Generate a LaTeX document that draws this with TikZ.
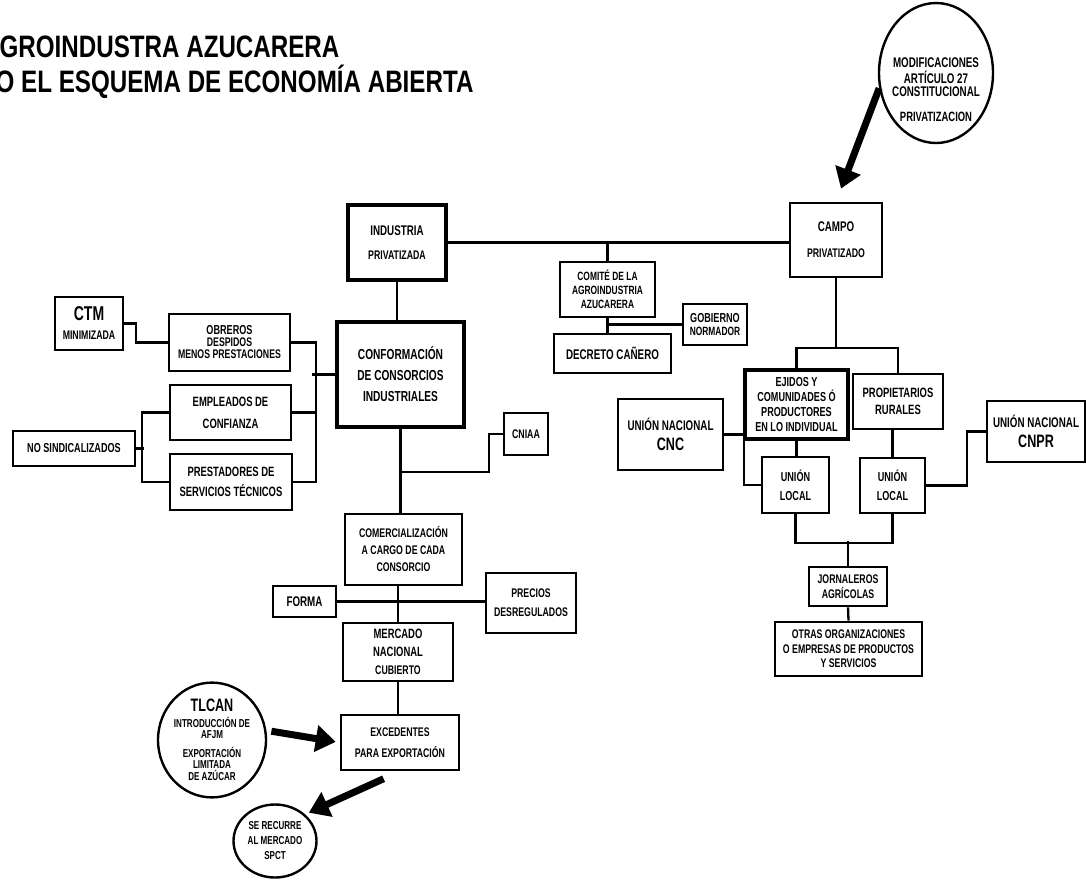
\documentclass[tikz,border=0pt]{standalone}
\usepackage{fontspec}
\setmainfont{Liberation Sans}[FakeStretch=0.7]
\newfontfamily\fuentetitulo{Liberation Sans}[FakeStretch=0.78]
\usetikzlibrary{shapes.geometric,arrows.meta}
\newcommand\tam[2]{\fontsize{#1}{#2}\selectfont}

\begin{document}
\begin{tikzpicture}[x=1pt,y=-1pt,
		caja/.style={draw, line width=2.6pt, align=center, inner sep=0pt},
		gruesa/.style={caja, line width=3.4pt},
		ovalo/.style={draw, ellipse, line width=2.4pt, align=center, inner sep=0pt},
		linea/.style={line width=2.3pt},
		flecha/.style={line width=7pt, -{Triangle[length=20pt,width=26pt]}}]
			\useasboundingbox (0,0) rectangle (1086,881);
			% titulo
			\node[anchor=east, font=\fuentetitulo\bfseries\tam{31}{33}] (titulo1) at (343,47) {AGROINDUSTRA AZUCARERA};
			\node[anchor=east, font=\fuentetitulo\bfseries\tam{31}{33}] (titulo2) at (477,82) {O EL ESQUEMA DE ECONOMÍA ABIERTA};
			% industria y campo
			\node[gruesa, minimum width=98pt, minimum height=75pt, font=\bfseries\tam{14}{24}] (industria) at (397,242.5) {INDUSTRIA\\\tam{12.5}{12}PRIVATIZADA};
			\node[caja, minimum width=92pt, minimum height=74pt, font=\bfseries\tam{14}{26}] (campo) at (836,240) {CAMPO\\\tam{12.5}{12}PRIVATIZADO};
			\node[caja, minimum width=95pt, minimum height=55pt, font=\bfseries\tam{12}{14}] (comite) at (607.5,289.5) {COMITÉ DE LA\\AGROINDUSTRIA\\AZUCARERA};
			\node[caja, minimum width=117pt, minimum height=39pt, font=\bfseries\tam{14}{16}] (decreto) at (612.5,353.5) {DECRETO CAÑERO};
			\node[caja, minimum width=64pt, minimum height=41pt, font=\bfseries\tam{13}{13}] (gobierno) at (715,324.5) {GOBIERNO\\\tam{12}{10}NORMADOR};
			\node[ovalo, minimum width=114pt, minimum height=140pt] (modif) at (936,73) {};
			\node[align=center, font=\bfseries\tam{14}{13}] (modiftexto) at (936,90) {MODIFICACIONES\\[3pt]ARTÍCULO 27\\CONSTITUCIONAL\\[12pt]\tam{13.5}{12}PRIVATIZACION};
			% lado izquierdo
			\node[caja, minimum width=68pt, minimum height=53pt, font=\bfseries\tam{20}{19}] (ctm) at (89,323.5) {CTM\\\tam{12.5}{12}MINIMIZADA};
			\node[caja, minimum width=121pt, minimum height=57pt, font=\bfseries\tam{13}{12}] (obreros) at (229.5,342.5) {OBREROS\\\tam{12.5}{11}DESPIDOS\\\tam{12.5}{11}MENOS PRESTACIONES};
			\node[caja, minimum width=121pt, minimum height=55pt, font=\bfseries\tam{13.5}{22}] (empleados) at (230.5,412.5) {EMPLEADOS DE\\CONFIANZA};
			\node[caja, minimum width=122pt, minimum height=56pt, font=\bfseries\tam{13.5}{20}] (prestadores) at (231,482) {PRESTADORES DE\\SERVICIOS TÉCNICOS};
			\node[caja, minimum width=122pt, minimum height=35pt, font=\bfseries\tam{13}{13}] (nosind) at (74,448.5) {NO SINDICALIZADOS};
			\node[gruesa, minimum width=127pt, minimum height=105pt, font=\bfseries\tam{14.5}{21}] (conformacion) at (400.5,374.5) {CONFORMACIÓN\\DE CONSORCIOS\\INDUSTRIALES};
			\node[caja, minimum width=44pt, minimum height=42pt, font=\bfseries\tam{12.5}{12}] (cniaa) at (526,434) {CNIAA};
			\node[caja, minimum width=117pt, minimum height=71pt, font=\bfseries\tam{12.5}{17}] (comercializacion) at (403.5,549.5) {COMERCIALIZACIÓN\\A CARGO DE CADA\\CONSORCIO};
			\node[caja, minimum width=63pt, minimum height=31pt, font=\bfseries\tam{14}{14}] (forma) at (304.5,601.5) {FORMA};
			\node[caja, minimum width=90pt, minimum height=60pt, font=\bfseries\tam{12.5}{19}] (precios) at (531,603) {PRECIOS\\DESREGULADOS};
			\node[caja, minimum width=110pt, minimum height=58pt, font=\bfseries\tam{13.5}{18}] (mercado) at (398,652) {MERCADO\\NACIONAL\\\tam{12.5}{12}CUBIERTO};
			\node[caja, minimum width=118pt, minimum height=55pt, font=\bfseries\tam{12.5}{21}] (excedentes) at (400,742.5) {EXCEDENTES\\PARA EXPORTACIÓN};
			\node[ovalo, minimum width=108pt, minimum height=114pt, font=\bfseries\tam{11.5}{11.5}] (tlcan) at (212,740) {\tam{18}{18}TLCAN\\[4pt]INTRODUCCIÓN DE\\AFJM\\[7pt]EXPORTACIÓN\\LIMITADA\\DE AZÚCAR};
			\node[ovalo, minimum width=83pt, minimum height=73pt, font=\bfseries\tam{11.5}{15}] (serecurre) at (275,841) {SE RECURRE\\AL MERCADO\\SPCT};
			% lado derecho
			\node[gruesa, minimum width=103pt, minimum height=69pt, font=\bfseries\tam{13}{15}] (ejidos) at (796.5,404.5) {EJIDOS Y\\COMUNIDADES Ó\\PRODUCTORES\\EN LO INDIVIDUAL};
			\node[caja, minimum width=90pt, minimum height=55pt, font=\bfseries\tam{13.5}{17}] (propietarios) at (898,401.5) {PROPIETARIOS\\RURALES};
			\node[caja, minimum width=105pt, minimum height=71pt, font=\bfseries\tam{14}{20}] (cnc) at (670.5,434.5) {UNIÓN NACIONAL\\\tam{18}{20}CNC};
			\node[caja, minimum width=67pt, minimum height=56pt, font=\bfseries\tam{13}{19}] (localI) at (795.5,485) {UNIÓN\\LOCAL};
			\node[caja, minimum width=65pt, minimum height=55pt, font=\bfseries\tam{13}{19}] (localD) at (892.5,485.5) {UNIÓN\\LOCAL};
			\node[caja, minimum width=98pt, minimum height=61pt, font=\bfseries\tam{14}{20}] (cnpr) at (1036,431.5) {UNIÓN NACIONAL\\\tam{18}{20}CNPR};
			\node[caja, minimum width=78pt, minimum height=39pt, font=\bfseries\tam{12.5}{15}] (jornaleros) at (848,586.5) {JORNALEROS\\AGRÍCOLAS};
			\node[caja, minimum width=147pt, minimum height=54pt, font=\bfseries\tam{12.5}{14.5}] (otras) at (848.5,649) {OTRAS ORGANIZACIONES\\O EMPRESAS DE PRODUCTOS\\Y SERVICIOS};
			% conexiones centro
			\draw[linea] (industria.east) -- (industria.east -| campo.west);
			\draw[linea] (comite.north) -- (comite.north |- industria.east);
			\draw[linea] (comite.south) -- (comite.south |- decreto.north);
			\draw[linea] (gobierno.west) -- (gobierno.west -| comite.south);
			\draw[linea] (industria.south) -- (industria.south |- conformacion.north);
			\draw[linea] (conformacion.south) -- (conformacion.south |- comercializacion.north);
			\draw[linea] (cniaa.west) -- ++(-14,0) |- (400.5,472) coordinate (codocniaa);
			\draw[linea] (mercado.north) -- (mercado.north |- comercializacion.south);
			\draw[linea] (forma.east) -- (forma.east -| precios.west);
			\draw[linea] (mercado.south) -- (mercado.south |- excedentes.north);
			% conexiones izquierda
			\draw[linea] (ctm.east) -- ++(12,0) |- (obreros.west);
			\draw[linea] (obreros.east) -- ++(24.5,0) |- (prestadores.east);
			\draw[linea] (empleados.east) -- ++(23.5,0);
			\draw[linea] (conformacion.west) -- ++(-23,0);
			\draw[linea] (empleados.west) -- ++(-27,0) |- (prestadores.west);
			\draw[linea] (nosind.east) -- ++(8,0);
			% conexiones derecha
			\draw[linea] (campo.south) -- ++(0,70) coordinate (ramacampo);
			\draw[linea] (ejidos.north) |- (ramacampo) -| (propietarios.north);
			\draw[linea] (ejidos.south) -- (ejidos.south |- localI.north);
			\draw[linea] (localD.north) -- (localD.north |- propietarios.south);
			\draw[linea] (cnc.east) -- ++(20,0) |- (localI.west);
			\draw[linea] (localD.east) -- ++(41,0) |- (cnpr.west);
			\draw[linea] (localI.south) -- ++(0,29) -| (localD.south);
			\draw[linea] (jornaleros.north) -- ++(0,-25);
			\draw[linea] (jornaleros.south) -- (otras.north);
			% flechas
			\draw[flecha, shorten >=14pt] (modif.195) -- (campo.north);
			\draw[flecha, shorten <=5pt, shorten >=4pt] (tlcan.10) -- (excedentes.west);
			\draw[flecha, shorten <=18pt, shorten >=4pt] (excedentes.south) -- (serecurre.north east);
		\end{tikzpicture}
\end{document}
